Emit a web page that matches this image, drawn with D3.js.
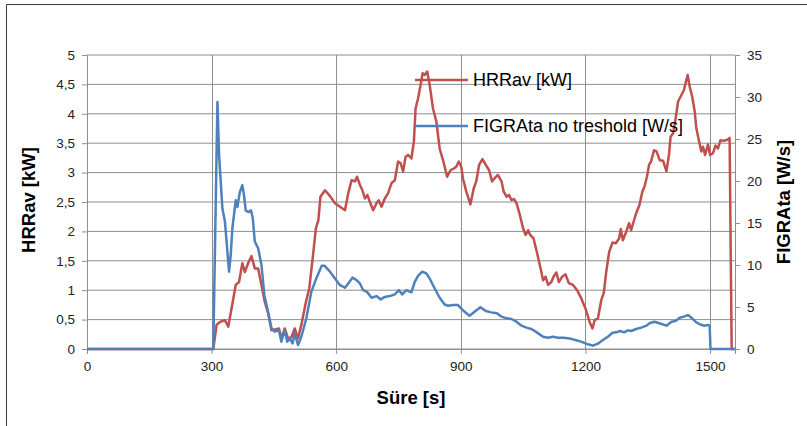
<!DOCTYPE html>
<html>
<head>
<meta charset="utf-8">
<script src="https://cdn.jsdelivr.net/npm/d3@7"></script>
<style>
  html, body { margin: 0; padding: 0; background: #fff; }
  svg { display: block; font-family: "Liberation Sans", Arial, sans-serif; }
</style>
</head>
<body>
<svg id="chart" width="807" height="426"></svg>
<script>
// ---- DATA ----
const xTicks = [0, 300, 600, 900, 1200, 1500];
const yLeftTicks = [0, 0.5, 1, 1.5, 2, 2.5, 3, 3.5, 4, 4.5, 5];
const yRightTicks = [0, 5, 10, 15, 20, 25, 30, 35];
const seriesNames = ["HRRav [kW]", "FIGRAta no treshold [W/s]"];

// HRRav [kW] – time (s) and value
const hrrTime = [0, 304, 312, 320, 332, 340, 348, 358, 366, 374, 380, 388, 396, 404, 412, 420, 428, 436, 444, 452, 462, 468, 476, 484, 492, 500, 508, 516, 527, 535, 545, 551, 557, 562, 573, 585, 597, 609, 621, 629, 637, 645, 650, 657, 663, 669, 675, 681, 689, 697, 702, 709, 717, 725, 733, 741, 749, 755, 761, 767, 773, 781, 787, 791, 797, 803, 808, 813, 819, 825, 833, 841, 849, 859, 867, 875, 883, 889, 895, 901, 905, 913, 923, 931, 937, 944, 952, 960, 968, 975, 981, 989, 998, 1003, 1010, 1016, 1022, 1028, 1034, 1042, 1050, 1056, 1062, 1067, 1075, 1083, 1092, 1098, 1104, 1110, 1118, 1123, 1130, 1136, 1144, 1152, 1160, 1170, 1180, 1190, 1200, 1210, 1217, 1222, 1230, 1238, 1244, 1250, 1257, 1265, 1273, 1281, 1285, 1290, 1298, 1305, 1310, 1317, 1322, 1330, 1337, 1342, 1348, 1353, 1358, 1365, 1371, 1379, 1387, 1395, 1401, 1405, 1411, 1417, 1423, 1431, 1437, 1441, 1446, 1451, 1457, 1463, 1467, 1473, 1479, 1483, 1488, 1495, 1500, 1507, 1513, 1519, 1525, 1531, 1539, 1544, 1547, 1552, 1560];
const hrrValues = [0, 0, 0.41, 0.46, 0.49, 0.38, 0.69, 1.09, 1.14, 1.46, 1.31, 1.46, 1.58, 1.37, 1.37, 1.09, 0.80, 0.61, 0.32, 0.33, 0.35, 0.18, 0.35, 0.18, 0.20, 0.35, 0.18, 0.41, 0.80, 1.03, 1.65, 2.05, 2.19, 2.59, 2.70, 2.60, 2.48, 2.42, 2.36, 2.65, 2.87, 2.85, 2.93, 2.79, 2.70, 2.56, 2.62, 2.50, 2.36, 2.48, 2.53, 2.42, 2.56, 2.65, 2.82, 2.87, 3.19, 3.16, 3.02, 3.27, 3.30, 3.24, 3.53, 4.09, 4.26, 4.49, 4.69, 4.66, 4.72, 4.49, 4.09, 3.87, 3.41, 3.16, 2.93, 3.04, 3.07, 3.10, 3.19, 3.10, 2.90, 2.68, 2.46, 2.73, 2.85, 3.13, 3.23, 3.13, 3.04, 2.85, 2.90, 2.96, 2.85, 2.68, 2.59, 2.62, 2.53, 2.55, 2.48, 2.28, 2.05, 1.94, 2.02, 1.94, 1.88, 1.65, 1.37, 1.17, 1.23, 1.09, 1.14, 1.23, 1.30, 1.14, 1.23, 1.27, 1.12, 1.09, 1.00, 0.86, 0.69, 0.46, 0.35, 0.49, 0.52, 0.83, 0.95, 1.31, 1.65, 1.81, 1.80, 1.88, 2.04, 1.85, 1.99, 2.14, 2.02, 2.19, 2.31, 2.45, 2.68, 2.76, 2.93, 3.13, 3.19, 3.38, 3.36, 3.21, 3.20, 3.02, 3.30, 3.61, 3.67, 3.92, 4.21, 4.32, 4.40, 4.52, 4.66, 4.46, 4.29, 4.04, 3.75, 3.55, 3.36, 3.44, 3.30, 3.48, 3.30, 3.33, 3.46, 3.41, 3.55, 3.54, 3.55, 3.57, 3.59, 0, 0];

// FIGRAta no treshold [W/s] – time (s) and value
const figraTime = [0, 304, 314, 318, 326, 332, 342, 346, 350, 358, 362, 368, 374, 378, 382, 388, 395, 399, 404, 412, 420, 427, 436, 444, 452, 462, 468, 476, 482, 488, 495, 500, 508, 516, 528, 540, 552, 565, 572, 585, 597, 609, 621, 629, 639, 649, 657, 665, 674, 685, 697, 707, 717, 729, 741, 751, 759, 769, 781, 789, 797, 807, 817, 825, 837, 849, 861, 869, 881, 893, 901, 909, 921, 933, 947, 960, 973, 987, 998, 1010, 1022, 1034, 1046, 1058, 1070, 1083, 1098, 1110, 1122, 1134, 1146, 1158, 1170, 1182, 1194, 1206, 1218, 1230, 1242, 1254, 1265, 1274, 1284, 1293, 1302, 1310, 1322, 1334, 1347, 1354, 1366, 1378, 1395, 1407, 1417, 1427, 1437, 1447, 1455, 1465, 1475, 1485, 1495, 1499, 1501, 1560];
const figraValues = [0, 0, 29.4, 23.1, 16.7, 15.2, 9.2, 11.2, 14.4, 17.7, 16.9, 18.7, 19.5, 18.3, 16.5, 16.3, 16.5, 15.6, 12.8, 12.0, 10.0, 6.4, 4.4, 2.5, 2.06, 2.26, 0.87, 2.26, 0.87, 1.27, 0.67, 1.87, 0.48, 1.46, 3.65, 6.8, 8.4, 9.9, 9.9, 9.2, 8.4, 7.6, 7.3, 7.8, 8.5, 8.2, 7.8, 7.0, 6.8, 6.1, 6.3, 5.9, 6.2, 6.3, 6.5, 7.0, 6.5, 7.0, 6.75, 8.0, 8.7, 9.2, 9.0, 8.4, 7.2, 6.1, 5.3, 5.15, 5.24, 5.24, 4.8, 4.44, 3.97, 4.44, 4.96, 4.52, 4.36, 4.25, 3.85, 3.65, 3.57, 3.25, 2.78, 2.54, 2.38, 1.98, 1.46, 1.35, 1.46, 1.35, 1.35, 1.27, 1.15, 0.99, 0.79, 0.56, 0.40, 0.63, 1.07, 1.46, 1.94, 1.98, 2.14, 1.98, 2.22, 2.14, 2.38, 2.54, 2.78, 3.06, 3.25, 3.06, 2.78, 3.25, 3.33, 3.73, 3.85, 4.05, 3.73, 3.25, 2.94, 2.78, 2.86, 2.78, 0, 0];

// ---- CHART ----
const svg = d3.select("#chart");
const plot = { left: 87, right: 735, top: 55, bottom: 349 };
const red = "#c0504d", blue = "#4f81bd";

// outer frame
svg.append("path")
  .attr("d", "M6.5,430 L6.5,4.5 L810,4.5")
  .attr("fill", "none").attr("stroke", "#3a3a3a").attr("stroke-width", 1);

const x = d3.scaleLinear().domain([0, 1560]).range([plot.left, plot.right]);
const yL = d3.scaleLinear().domain([0, 5]).range([plot.bottom, plot.top]);
const yR = d3.scaleLinear().domain([0, 35]).range([plot.bottom, plot.top]);

const grid = svg.append("g");
grid.selectAll("line.h").data(yLeftTicks).enter().append("line")
  .attr("x1", plot.left).attr("x2", plot.right)
  .attr("y1", d => yL(d)).attr("y2", d => yL(d))
  .attr("stroke", "#8e8e8e").attr("stroke-width", 1);
grid.selectAll("line.v").data(xTicks.slice(1)).enter().append("line")
  .attr("x1", d => Math.round(x(d)) + 0.5).attr("x2", d => Math.round(x(d)) + 0.5)
  .attr("y1", plot.top).attr("y2", plot.bottom)
  .attr("stroke", "#8e8e8e").attr("stroke-width", 1);

const fmt = d => String(d).replace(".", ",");
const tickFont = "13.5px";

const axL = svg.append("g").attr("transform", `translate(${plot.left},0)`)
  .call(d3.axisLeft(yL).tickValues(yLeftTicks).tickFormat(fmt).tickSize(5).tickPadding(7));
const axR = svg.append("g").attr("transform", `translate(${plot.right},0)`)
  .call(d3.axisRight(yR).tickValues(yRightTicks).tickFormat(d => d).tickSize(5).tickPadding(7));
const axB = svg.append("g").attr("transform", `translate(0,${plot.bottom})`)
  .call(d3.axisBottom(x).tickValues(xTicks).tickFormat(d => d).tickSize(5).tickPadding(7));

[axL, axR, axB].forEach(a => {
  a.select(".domain").attr("stroke", "#8e8e8e");
  a.selectAll(".tick line").attr("stroke", "#8e8e8e");
  a.selectAll("text").attr("font-size", tickFont).attr("fill", "#222")
    .attr("font-family", "'Liberation Sans', Arial, sans-serif");
});

// lines
const lineL = d3.line().x(d => x(d[0])).y(d => yL(d[1]));
const lineR = d3.line().x(d => x(d[0])).y(d => yR(d[1]));
svg.append("path").datum(d3.zip(hrrTime, hrrValues))
  .attr("d", lineL).attr("fill", "none").attr("stroke", red)
  .attr("stroke-width", 2.5).attr("stroke-linejoin", "round");
svg.append("path").datum(d3.zip(figraTime, figraValues))
  .attr("d", lineR).attr("fill", "none").attr("stroke", blue)
  .attr("stroke-width", 2.5).attr("stroke-linejoin", "round");

// axis titles
svg.append("text").text("HRRav [kW]")
  .attr("transform", "translate(28,200) rotate(-90)")
  .attr("text-anchor", "middle").attr("dominant-baseline", "central")
  .attr("font-size", "18.5px").attr("font-weight", "bold").attr("fill", "#000");
svg.append("text").text("FIGRAta [W/s]")
  .attr("transform", "translate(783,202) rotate(-90)")
  .attr("text-anchor", "middle").attr("dominant-baseline", "central")
  .attr("font-size", "18.5px").attr("font-weight", "bold").attr("fill", "#000");
svg.append("text").text("Süre [s]")
  .attr("x", 411).attr("y", 397)
  .attr("text-anchor", "middle").attr("dominant-baseline", "central")
  .attr("font-size", "18.5px").attr("font-weight", "bold").attr("fill", "#000");

// legend
const legend = svg.append("g");
const legY = [80, 126];
const legCol = [red, blue];
seriesNames.forEach((name, i) => {
  legend.append("line").attr("x1", 415).attr("x2", 468)
    .attr("y1", legY[i]).attr("y2", legY[i])
    .attr("stroke", legCol[i]).attr("stroke-width", 2.5);
  legend.append("text").text(name).attr("x", 473).attr("y", legY[i])
    .attr("dominant-baseline", "central").attr("font-size", "18px").attr("fill", "#000");
});
</script>
</body>
</html>
